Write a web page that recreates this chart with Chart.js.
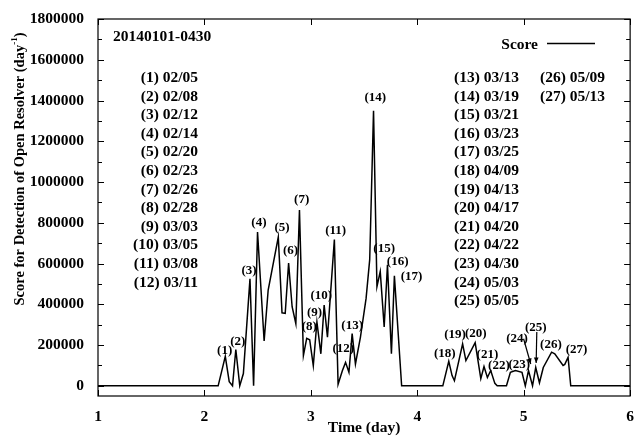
<!DOCTYPE html>
<html>
<head>
<meta charset="utf-8">
<script src="https://cdn.jsdelivr.net/npm/chart.js@4"></script>
<style>
  html, body { margin: 0; padding: 0; background: #fff; }
</style>
</head>
<body>
<canvas id="chart" width="638" height="437"></canvas>
<script>
// --- DATA ---
const days = [1.0, 2.129, 2.196, 2.233, 2.264, 2.295, 2.332, 2.366, 2.428, 2.462,
  2.499, 2.561, 2.599, 2.694, 2.729, 2.759, 2.791, 2.824, 2.859, 2.893,
  2.930, 2.961, 2.989, 3.023, 3.057, 3.094, 3.125, 3.156, 3.221, 3.256,
  3.296, 3.326, 3.358, 3.388, 3.419, 3.466, 3.519, 3.553, 3.589, 3.621,
  3.652, 3.689, 3.720, 3.757, 3.785, 3.853, 4.240, 4.296, 4.327, 4.349,
  4.426, 4.457, 4.544, 4.597, 4.627, 4.659, 4.690, 4.729, 4.751, 4.838,
  4.875, 4.922, 4.984, 5.015, 5.045, 5.083, 5.113, 5.148, 5.184, 5.262,
  5.292, 5.370, 5.386, 5.417, 5.442, 6.0];
const scores = [0, 0, 145000, 20000, 0, 178000, 0, 60000, 525000, 0,
  755000, 220000, 470000, 730000, 358000, 355000, 602000, 388000, 305000, 863000,
  148000, 233000, 226000, 99000, 313000, 157000, 396000, 239000, 718000, 8000,
  74000, 115000, 66000, 256000, 107000, 239000, 429000, 619000, 1350000, 487000,
  561000, 289000, 594000, 157000, 540000, 0, 0, 120000, 50000, 25000,
  206000, 124000, 212000, 35000, 95000, 41000, 75000, 12000, 0, 0,
  66000, 75000, 66000, 0, 75000, 0, 90000, 15000, 90000, 165000,
  157000, 100000, 105000, 140000, 0, 0];

// peak labels (anchored in data units)
const peakNames = ['(1)', '(2)', '(3)', '(4)', '(5)', '(6)', '(7)', '(8)', '(9)', '(10)',
  '(11)', '(12)', '(13)', '(14)', '(15)', '(16)', '(17)', '(18)', '(19)', '(20)',
  '(21)', '(22)', '(23)', '(24)', '(25)', '(26)', '(27)'];
const peakDays = [2.19, 2.313, 2.419, 2.512, 2.729, 2.809, 2.914, 2.986, 3.035, 3.098,
  3.233, 3.305, 3.388, 3.605, 3.689, 3.816, 3.946, 4.259, 4.355, 4.550,
  4.659, 4.767, 4.959, 4.938, 5.114, 5.256, 5.496];
const peakScores = [173000, 219000, 566000, 800000, 776000, 663000, 912000, 289000, 360000, 442000,
  759000, 182000, 294000, 1414000, 672000, 610000, 536000, 156000, 251000, 256000,
  151000, 99000, 104000, 231000, 285000, 201000, 176000];

const eventDates = ['02/05', '02/08', '02/12', '02/14', '02/20', '02/23', '02/26', '02/28', '03/03',
  '03/05', '03/08', '03/11', '03/13', '03/19', '03/21', '03/23', '03/25', '04/09', '04/13',
  '04/17', '04/20', '04/22', '04/30', '05/03', '05/05', '05/09', '05/13'];

const xTicks = [1, 2, 3, 4, 5, 6];
const yTicks = [0, 200000, 400000, 600000, 800000, 1000000, 1200000, 1400000, 1600000, 1800000];

// --- STYLE ---
const SERIF = '"Liberation Serif", "DejaVu Serif", serif';
const bigFont = { family: SERIF, size: 15.5, weight: 'bold' };

// frame, inner ticks, labels, legend
const decor = {
  id: 'decor',
  afterDraw(chart) {
    const { ctx, chartArea: a, scales: { x, y } } = chart;
    ctx.save();
    ctx.strokeStyle = '#000';
    ctx.lineWidth = 1.2;
    ctx.strokeRect(a.left, a.top, a.right - a.left, a.bottom - a.top);

    // inner ticks
    ctx.beginPath();
    xTicks.forEach(v => {
      const px = Math.round(x.getPixelForValue(v)) + 0.5;
      ctx.moveTo(px, a.bottom); ctx.lineTo(px, a.bottom - 6);
      ctx.moveTo(px, a.top); ctx.lineTo(px, a.top + 6);
    });
    for (let v = 0; v <= 1800000; v += 100000) {
      const py = Math.round(y.getPixelForValue(v)) + 0.5;
      const len = v % 200000 === 0 ? 6 : 4;
      ctx.moveTo(a.left, py); ctx.lineTo(a.left + len, py);
      ctx.moveTo(a.right, py); ctx.lineTo(a.right - len, py);
    }
    ctx.lineWidth = 1;
    ctx.stroke();

    // peak labels
    ctx.fillStyle = '#000';
    ctx.font = 'bold 13px ' + SERIF;
    ctx.textAlign = 'center';
    ctx.textBaseline = 'middle';
    peakNames.forEach((n, i) => {
      ctx.fillText(n, x.getPixelForValue(peakDays[i]), y.getPixelForValue(peakScores[i]));
    });

    // arrows for (24) and (25)
    const arrows = [[4.999, 231000, 5.066, 107000], [5.123, 264000, 5.117, 112000]];
    arrows.forEach(([x0, y0, x1, y1]) => {
      const p0 = [x.getPixelForValue(x0), y.getPixelForValue(y0)];
      const p1 = [x.getPixelForValue(x1), y.getPixelForValue(y1)];
      const ang = Math.atan2(p1[1] - p0[1], p1[0] - p0[0]);
      ctx.beginPath();
      ctx.moveTo(p0[0], p0[1]); ctx.lineTo(p1[0], p1[1]);
      ctx.lineWidth = 1.2;
      ctx.stroke();
      ctx.beginPath();
      ctx.moveTo(p1[0], p1[1]);
      ctx.lineTo(p1[0] - 6 * Math.cos(ang - 0.4), p1[1] - 6 * Math.sin(ang - 0.4));
      ctx.lineTo(p1[0] - 6 * Math.cos(ang + 0.4), p1[1] - 6 * Math.sin(ang + 0.4));
      ctx.closePath();
      ctx.fill();
    });

    // date lists
    ctx.font = 'bold 15.5px ' + SERIF;
    const lh = 18.6;
    eventDates.forEach((d, i) => {
      const txt = peakNames[i] + ' ' + d;
      if (i < 12) {
        ctx.textAlign = 'right';
        ctx.fillText(txt, 198, 78 + i * lh);
      } else if (i < 25) {
        ctx.textAlign = 'left';
        ctx.fillText(txt, 454, 78 + (i - 12) * lh);
      } else {
        ctx.textAlign = 'left';
        ctx.fillText(txt, 540, 78 + (i - 25) * lh);
      }
    });

    // period label
    ctx.textAlign = 'left';
    ctx.fillText('20140101-0430', 113, 37);

    // legend
    ctx.textAlign = 'right';
    ctx.fillText('Score', 538, 45);
    ctx.beginPath();
    ctx.moveTo(547, 43.5); ctx.lineTo(595, 43.5);
    ctx.lineWidth = 1.5;
    ctx.stroke();

    // y axis title, with superscript
    ctx.translate(20, 169);
    ctx.rotate(-Math.PI / 2);
    const main = 'Score for Detection of Open Resolver (day';
    const sup = '-1';
    const fs = 14.5;
    ctx.font = 'bold ' + fs + 'px ' + SERIF;
    const wMain = ctx.measureText(main).width;
    const wClose = ctx.measureText(')').width;
    ctx.font = 'bold 9px ' + SERIF;
    const wSup = ctx.measureText(sup).width;
    const total = wMain + wSup + wClose;
    let sx = -total / 2;
    ctx.textAlign = 'left';
    ctx.font = 'bold ' + fs + 'px ' + SERIF;
    ctx.fillText(main, sx, 0);
    sx += wMain;
    ctx.font = 'bold 9px ' + SERIF;
    ctx.fillText(sup, sx, -5);
    sx += wSup;
    ctx.font = 'bold ' + fs + 'px ' + SERIF;
    ctx.fillText(')', sx, 0);
    ctx.restore();
  }
};

new Chart(document.getElementById('chart'), {
  type: 'line',
  data: {
    datasets: [{
      label: 'Score',
      data: days.map((d, i) => ({ x: d, y: scores[i] })),
      borderColor: '#000',
      borderWidth: 1.5,
      pointRadius: 0,
      tension: 0,
      fill: false
    }]
  },
  options: {
    responsive: false,
    animation: false,
    devicePixelRatio: 1,
    layout: { padding: { top: 19, right: 2, left: 0, bottom: 0 } },
    plugins: { legend: { display: false }, tooltip: { enabled: false } },
    scales: {
      x: {
        type: 'linear',
        min: 1, max: 6,
        afterBuildTicks: s => { s.ticks = xTicks.map(v => ({ value: v })); },
        afterFit: s => { s.height = 41; },
        grid: { display: false },
        border: { display: false },
        ticks: { color: '#000', font: bigFont, padding: 4, maxRotation: 0, autoSkip: false, callback: v => String(v) },
        title: { display: true, text: 'Time (day)', color: '#000', font: bigFont, padding: { top: 0, bottom: 0 } }
      },
      y: {
        min: -50000, max: 1800000,
        afterBuildTicks: s => { s.ticks = yTicks.map(v => ({ value: v })); },
        afterFit: s => { s.width = 98; },
        grid: { display: false },
        border: { display: false },
        ticks: { color: '#000', font: bigFont, padding: 6, callback: v => String(v) }
      }
    }
  },
  plugins: [decor]
});
</script>
</body>
</html>
